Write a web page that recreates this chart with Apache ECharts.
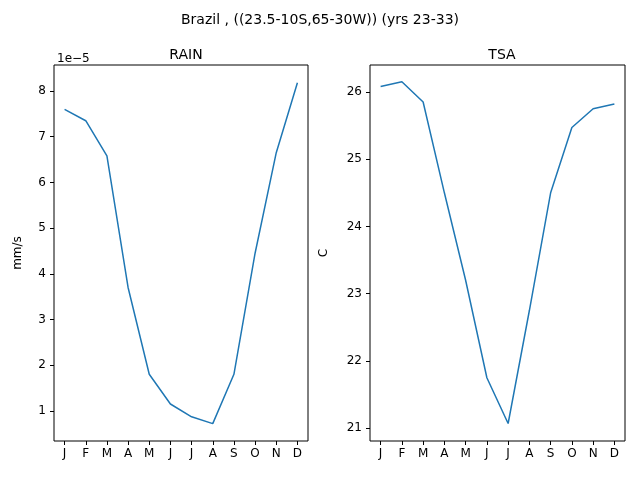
<!DOCTYPE html>
<html><head><meta charset="utf-8">
<script src="https://cdn.jsdelivr.net/npm/echarts@6/dist/echarts.min.js"></script>
<style>html,body{margin:0;padding:0;background:#fff}#c{width:640px;height:480px}</style>
</head><body><div id="c"></div>
<script>
const months = ['J','F','M','A','M','J','J','A','S','O','N','D'];
const rain = [7.6,7.35,6.58,3.7,1.8,1.15,0.87,0.72,1.8,4.45,6.65,8.18]; // x 1e-5 mm/s
const tsa = [26.08,26.15,25.85,24.5,23.2,21.75,21.07,22.75,24.5,25.47,25.75,25.82];
const rainTicks = [1,2,3,4,5,6,7,8];
const tsaTicks = [21,22,23,24,25,26];
const F = 'DejaVu Sans';
const lab = {color:'#000',fontFamily:F,fontSize:12};
function xAx(i){return {type:'category',gridIndex:i,data:months,boundaryGap:true,
  axisLine:{show:false},axisTick:{show:true,alignWithLabel:true,length:4,lineStyle:{color:'#000'}},
  axisLabel:Object.assign({margin:7,interval:0},lab)};}
function yAx(i,min,max,ticks,name){return {type:'value',gridIndex:i,min:min,max:max,
  name:name,nameLocation:'middle',nameGap:i?40:30,nameTextStyle:{color:'#000',fontFamily:F,fontSize:12},
  splitLine:{show:false},axisLine:{show:false},
  axisTick:{show:true,length:4,lineStyle:{color:'#000'},customValues:ticks},
  axisLabel:Object.assign({margin:8,customValues:ticks},lab)};}
const chart = echarts.init(document.getElementById('c'));
chart.setOption({
  animation:false,
  title:[
    {text:'Brazil , ((23.5-10S,65-30W)) (yrs 23-33)',left:'center',top:8,textStyle:{fontFamily:F,fontSize:14,fontWeight:'normal',color:'#000'}},
    {text:'RAIN',left:181,textAlign:'center',top:43,textStyle:{fontFamily:F,fontSize:14,fontWeight:'normal',color:'#000'}},
    {text:'TSA',left:497,textAlign:'center',top:43,textStyle:{fontFamily:F,fontSize:14,fontWeight:'normal',color:'#000'}},
    {text:'1e\u22125',left:52,top:48,textStyle:{fontFamily:F,fontSize:12,fontWeight:'normal',color:'#000'}}
  ],
  grid:[
    {left:54,top:65,width:254,height:376,show:true,borderColor:'#000',borderWidth:1},
    {left:370,top:65,width:255,height:376,show:true,borderColor:'#000',borderWidth:1}
  ],
  xAxis:[xAx(0),xAx(1)],
  yAxis:[yAx(0,0.34,8.57,rainTicks,'mm/s'),yAx(1,20.81,26.40,tsaTicks,'C')],
  series:[
    {type:'line',xAxisIndex:0,yAxisIndex:0,data:rain,showSymbol:false,lineStyle:{color:'#1f77b4',width:1.5}},
    {type:'line',xAxisIndex:1,yAxisIndex:1,data:tsa,showSymbol:false,lineStyle:{color:'#1f77b4',width:1.5}}
  ]
});
</script></body></html>
